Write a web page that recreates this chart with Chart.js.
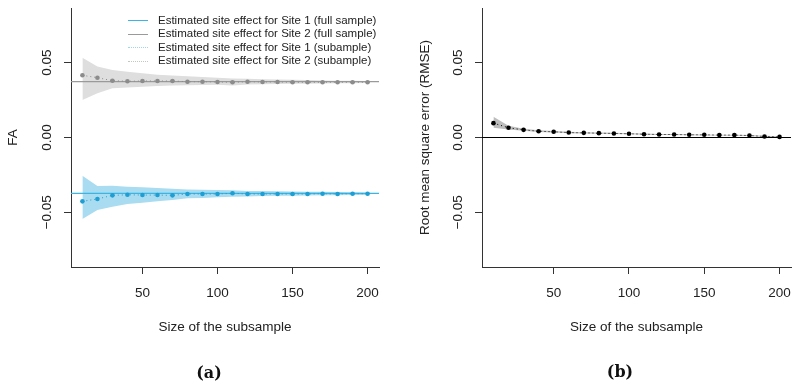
<!DOCTYPE html>
<html>
<head>
<meta charset="utf-8">
<script src="https://cdn.jsdelivr.net/npm/chart.js@4.4.1/dist/chart.umd.min.js"></script>
<style>
  body {margin:0; background:#fff; width:800px; height:388px; position:relative; overflow:hidden; font-family:"Liberation Sans", Arial, sans-serif;}
  .panel {position:absolute; top:0; width:400px; height:388px;}
  .cap {position:absolute; font-family:"DejaVu Serif", serif; font-weight:bold; font-size:16px; color:#111; transform:translate(-50%,-50%);}
  #legend {position:absolute; left:128px; top:14px; font-size:11.5px; color:#222; line-height:13.4px; white-space:nowrap;}
  .sw {display:inline-block; width:20px; height:0; vertical-align:middle; margin-right:10px;}
</style>
</head>
<body>
<div class="panel" style="left:0"><canvas id="fa_chart" width="400" height="388"></canvas></div>
<div class="panel" style="left:400px"><canvas id="rmse_chart" width="400" height="388"></canvas></div>
<div id="legend"></div>
<div class="cap" style="left:209px; top:372px">(a)</div>
<div class="cap" style="left:620px; top:371px">(b)</div>

<script>
//Data

const subSizes = [10, 20, 30, 40, 50, 60, 70, 80, 90, 100, 110, 120, 130, 140, 150, 160, 170, 180, 190, 200];

const fullSite1 = -0.0373;
const fullSite2 = 0.0373;

const site1Sub = [-0.0427, -0.0411, -0.0387, -0.0383, -0.0385, -0.0385, -0.0387, -0.0378, -0.0378, -0.0378, -0.0373, -0.0378, -0.0378, -0.0378, -0.0378, -0.0378, -0.0376, -0.0378, -0.0376, -0.0376];
const site1Hi  = [-0.0256, -0.0324, -0.0322, -0.0329, -0.0333, -0.0338, -0.0342, -0.0347, -0.0349, -0.0351, -0.0352, -0.0357, -0.0358, -0.0360, -0.0361, -0.0362, -0.0363, -0.0364, -0.0366, -0.0367];
const site1Lo  = [-0.0545, -0.0485, -0.0463, -0.0445, -0.0436, -0.0427, -0.0418, -0.0407, -0.0405, -0.0400, -0.0396, -0.0394, -0.0392, -0.0390, -0.0389, -0.0388, -0.0387, -0.0386, -0.0385, -0.0384];

const site2Sub = [0.0416, 0.0400, 0.0380, 0.0376, 0.0378, 0.0378, 0.0378, 0.0373, 0.0373, 0.0371, 0.0369, 0.0373, 0.0371, 0.0371, 0.0369, 0.0369, 0.0369, 0.0369, 0.0369, 0.0369];
const site2Hi  = [0.0534, 0.0474, 0.0452, 0.0440, 0.0430, 0.0420, 0.0415, 0.0410, 0.0405, 0.0400, 0.0395, 0.0393, 0.0390, 0.0388, 0.0386, 0.0384, 0.0382, 0.0380, 0.0379, 0.0378];
const site2Lo  = [0.0251, 0.0296, 0.0329, 0.0335, 0.0340, 0.0344, 0.0347, 0.0350, 0.0351, 0.0352, 0.0348, 0.0354, 0.0356, 0.0358, 0.0360, 0.0360, 0.0361, 0.0362, 0.0363, 0.0364];

const rmse   = [0.0096, 0.0065, 0.0051, 0.0042, 0.0038, 0.0033, 0.0031, 0.0029, 0.0027, 0.0025, 0.0022, 0.0020, 0.0020, 0.0018, 0.0018, 0.0016, 0.0016, 0.0013, 0.0007, 0.0004];
const rmseHi = [0.0138, 0.0078, 0.0058, 0.0048, 0.0043, 0.0038, 0.0035, 0.0033, 0.0031, 0.0029, 0.0026, 0.0024, 0.0023, 0.0021, 0.0020, 0.0019, 0.0018, 0.0016, 0.0011, 0.0008];
const rmseLo = [0.0066, 0.0054, 0.0045, 0.0037, 0.0033, 0.0029, 0.0027, 0.0025, 0.0023, 0.0021, 0.0019, 0.0017, 0.0016, 0.0015, 0.0014, 0.0013, 0.0012, 0.0010, 0.0004, 0.0001];

const xTicks = [50, 100, 150, 200];
const yTicks = [-0.05, 0, 0.05];
const xRange = [2.4, 207.6];
const yRange = [-0.0866, 0.0866];

const legendItems = [
  {text: "Estimated site effect for Site 1 (full sample)", color: "#3cb4e4", dash: "solid"},
  {text: "Estimated site effect for Site 2 (full sample)", color: "#9a9a9a", dash: "solid"},
  {text: "Estimated site effect for Site 1 (subample)", color: "#9fd6ee", dash: "dotted"},
  {text: "Estimated site effect for Site 2 (subample)", color: "#bfcabf", dash: "dotted"}
];

//------------------------------------------

const FONT = "'Liberation Sans', Arial, sans-serif";
const pts = arr => subSizes.map((x, i) => ({x: x, y: arr[i]}));
const hline = v => [{x: xRange[0], y: v}, {x: xRange[1], y: v}];
const fmtY = v => (v < 0 ? "\u2212" : "") + Math.abs(v).toFixed(2);

//band = upper filled down to lower
function band(hi, lo, color) {
  return [
    {data: pts(hi), fill: "+1", backgroundColor: color, borderWidth: 0, pointRadius: 0, order: 3},
    {data: pts(lo), fill: false, borderWidth: 0, pointRadius: 0, order: 3}
  ];
}

function subSeries(arr, color) {
  return {data: pts(arr), borderColor: color, borderWidth: 1, borderDash: [1, 3],
          pointRadius: 2.3, pointBackgroundColor: color, pointBorderWidth: 0, fill: false, order: 0};
}

function fullLine(v, color) {
  return {data: hline(v), borderColor: color, borderWidth: 1.2, pointRadius: 0, fill: false, order: 1};
}

//shared axis setup
function makeOptions(yTitle, yWidth, padRight, yTitlePad) {
  return {
    responsive: false,
    animation: false,
    layout: {padding: {top: 8, right: padRight, left: 0, bottom: 0}},
    plugins: {legend: {display: false}, tooltip: {enabled: false}},
    scales: {
      x: {
        type: "linear", min: xRange[0], max: xRange[1],
        afterBuildTicks: s => { s.ticks = xTicks.map(v => ({value: v})); },
        afterFit: s => { s.height = 121; s.paddingLeft = 0; s.paddingRight = 0; },
        ticks: {color: "#222", padding: 11, maxRotation: 0, font: {family: FONT, size: 13.5}, callback: v => String(v)},
        grid: {drawOnChartArea: false, drawTicks: true, tickLength: 7, color: "#333"},
        border: {display: true, color: "#333", width: 1},
        title: {display: true, text: "Size of the subsample", color: "#222", font: {family: FONT, size: 13.5}, padding: {top: 0, bottom: 53}}
      },
      y: {
        type: "linear", min: yRange[0], max: yRange[1],
        afterBuildTicks: s => { s.ticks = yTicks.map(v => ({value: v})); },
        afterFit: s => { s.width = yWidth; s.paddingTop = 0; s.paddingBottom = 0; },
        ticks: {color: "#222", padding: 0, minRotation: 90, maxRotation: 90, crossAlign: "center",
                font: {family: FONT, size: 13.5}, callback: v => fmtY(v)},
        grid: {drawOnChartArea: false, drawTicks: true, tickLength: 7, color: "#333"},
        border: {display: true, color: "#333", width: 1},
        title: {display: true, text: yTitle, color: "#222", font: {family: FONT, size: 13.5}, padding: {top: yTitlePad, bottom: 0}}
      }
    }
  };
}

//------------------------------------------

//Panel (a): site effects
const configFA = {
  type: "line",
  data: {
    datasets: [
      subSeries(site1Sub, "#1e9ed2"),
      subSeries(site2Sub, "#8c8c8c"),
      fullLine(fullSite1, "#3cb4e4"),
      fullLine(fullSite2, "#9a9a9a"),
      ...band(site1Hi, site1Lo, "#a9dcf0"),
      ...band(site2Hi, site2Lo, "#dedede")
    ]
  },
  options: makeOptions("FA", 71, 21, 5)
};

//Panel (b): RMSE
const configRMSE = {
  type: "line",
  data: {
    datasets: [
      subSeries(rmse, "#000000"),
      fullLine(0, "#000000"),
      ...band(rmseHi, rmseLo, "#bdbdbd")
    ]
  },
  options: makeOptions("Root mean square error (RMSE)", 82, 9, 17)
};

//------------------------------------------

//Legend for panel (a)
document.getElementById("legend").innerHTML = legendItems.map(it =>
  '<div><span class="sw" style="border-top:1px ' + it.dash + ' ' + it.color + '"></span>' + it.text + '</div>'
).join("");

const faChart = new Chart(document.getElementById("fa_chart"), configFA);
const rmseChart = new Chart(document.getElementById("rmse_chart"), configRMSE);
</script>
</body>
</html>
